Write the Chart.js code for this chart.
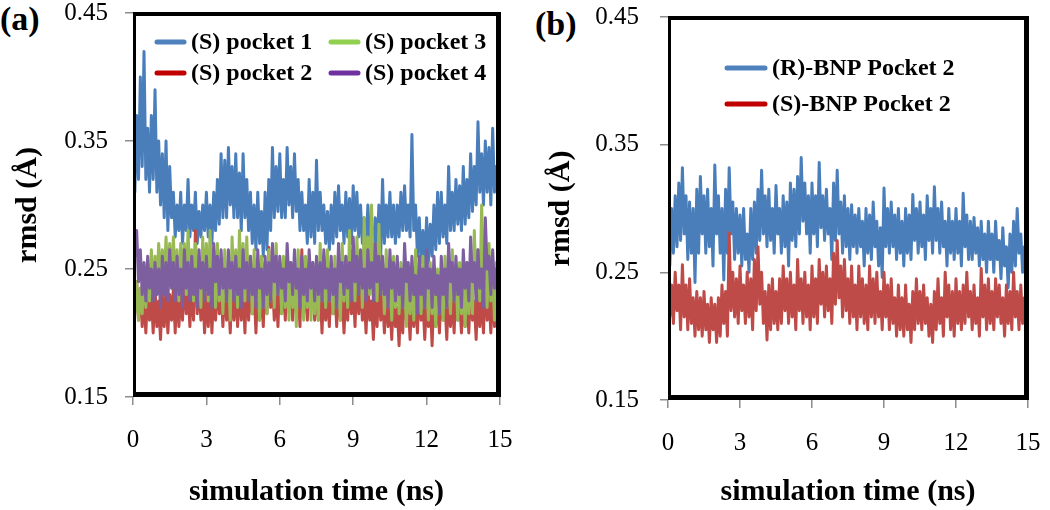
<!DOCTYPE html>
<html>
<head>
<meta charset="utf-8">
<script src="https://cdn.jsdelivr.net/npm/chart.js@4.4.0/dist/chart.umd.min.js"></script>
<style>
  body { margin: 0; background: #fff; width: 1050px; height: 510px; overflow: hidden; position: relative; font-family: 'Liberation Serif', serif; }
  canvas { position: absolute; top: 0; }
  #chartA { left: 0; }
  #chartB { left: 520px; }
  .tag { position: absolute; font-weight: bold; font-size: 34px; line-height: 1; color: #000; }
</style>
</head>
<body>
<div class="tag" style="left:0px;top:2px;">(a)</div>
<div class="tag" style="left:535px;top:7px;">(b)</div>
<canvas id="chartA" width="520" height="510"></canvas>
<canvas id="chartB" width="530" height="510"></canvas>
<script>
const SERIF = "'Liberation Serif', 'Times New Roman', serif";

// one high and one low reading per 0.15 ns window (the trace swings between them)
const TIME_STEP = 0.15;
const xTicks = [0, 3, 6, 9, 12, 15];
const yTicks = [0.15, 0.25, 0.35, 0.45];

// panel (a) - (S)-BNP, four pockets
const sPocket1Hi = [
  0.38, 0.37, 0.40, 0.42, 0.36, 0.37, 0.39, 0.35, 0.34, 0.35,
  0.33, 0.31, 0.30, 0.31, 0.30, 0.32, 0.30, 0.31, 0.295, 0.30,
  0.31, 0.30, 0.31, 0.32, 0.34, 0.335, 0.345, 0.33, 0.34, 0.325,
  0.34, 0.32, 0.31, 0.30, 0.31, 0.295, 0.31, 0.32, 0.345, 0.33,
  0.34, 0.32, 0.345, 0.33, 0.34, 0.32, 0.31, 0.30, 0.32, 0.31,
  0.335, 0.31, 0.30, 0.295, 0.30, 0.31, 0.315, 0.30, 0.31, 0.305,
  0.315, 0.31, 0.30, 0.29, 0.30, 0.285, 0.29, 0.30, 0.32, 0.30,
  0.31, 0.30, 0.30, 0.31, 0.315, 0.30, 0.355, 0.30, 0.29, 0.28,
  0.29, 0.285, 0.30, 0.31, 0.31, 0.30, 0.33, 0.31, 0.32, 0.315,
  0.33, 0.32, 0.34, 0.33, 0.365, 0.34, 0.35, 0.345, 0.36, 0.33, 0.345
];
const sPocket1Lo = [
  0.31, 0.32, 0.33, 0.32, 0.31, 0.32, 0.31, 0.30, 0.29, 0.28,
  0.29, 0.275, 0.28, 0.27, 0.28, 0.275, 0.28, 0.27, 0.275, 0.28,
  0.275, 0.27, 0.28, 0.285, 0.29, 0.29, 0.30, 0.29, 0.29, 0.28,
  0.29, 0.28, 0.27, 0.265, 0.27, 0.26, 0.265, 0.28, 0.29, 0.295,
  0.29, 0.29, 0.30, 0.29, 0.295, 0.28, 0.28, 0.27, 0.275, 0.27,
  0.28, 0.28, 0.27, 0.265, 0.27, 0.275, 0.28, 0.27, 0.275, 0.27,
  0.28, 0.275, 0.27, 0.265, 0.27, 0.26, 0.265, 0.26, 0.27, 0.275,
  0.275, 0.27, 0.275, 0.28, 0.28, 0.275, 0.28, 0.26, 0.255, 0.25,
  0.255, 0.26, 0.265, 0.27, 0.275, 0.27, 0.28, 0.28, 0.285, 0.28,
  0.285, 0.29, 0.295, 0.30, 0.31, 0.30, 0.31, 0.30, 0.31, 0.30, 0.32
];
const sPocket2Hi = [
  0.245, 0.24, 0.235, 0.23, 0.235, 0.23, 0.235, 0.225, 0.23, 0.235,
  0.23, 0.235, 0.24, 0.23, 0.245, 0.235, 0.24, 0.28, 0.24, 0.235,
  0.23, 0.24, 0.235, 0.245, 0.235, 0.24, 0.23, 0.24, 0.235, 0.24,
  0.235, 0.245, 0.24, 0.235, 0.24, 0.235, 0.25, 0.267, 0.24, 0.235,
  0.245, 0.24, 0.25, 0.24, 0.245, 0.235, 0.265, 0.24, 0.245, 0.235,
  0.24, 0.235, 0.24, 0.23, 0.24, 0.235, 0.24, 0.23, 0.235, 0.245,
  0.235, 0.25, 0.24, 0.23, 0.24, 0.225, 0.235, 0.24, 0.23, 0.235,
  0.225, 0.235, 0.22, 0.23, 0.24, 0.225, 0.235, 0.23, 0.24, 0.225,
  0.23, 0.225, 0.235, 0.23, 0.24, 0.225, 0.235, 0.23, 0.24, 0.225,
  0.235, 0.23, 0.24, 0.225, 0.235, 0.23, 0.245, 0.23, 0.235, 0.225, 0.24
];
const sPocket2Lo = [
  0.22, 0.21, 0.205, 0.20, 0.21, 0.20, 0.205, 0.195, 0.205, 0.20,
  0.21, 0.20, 0.205, 0.21, 0.215, 0.205, 0.21, 0.215, 0.21, 0.20,
  0.205, 0.20, 0.21, 0.215, 0.205, 0.21, 0.20, 0.21, 0.205, 0.21,
  0.20, 0.21, 0.215, 0.20, 0.21, 0.205, 0.215, 0.22, 0.21, 0.205,
  0.215, 0.21, 0.22, 0.21, 0.215, 0.205, 0.215, 0.21, 0.22, 0.21,
  0.21, 0.20, 0.21, 0.205, 0.215, 0.205, 0.21, 0.20, 0.21, 0.215,
  0.205, 0.215, 0.21, 0.20, 0.21, 0.195, 0.205, 0.21, 0.20, 0.205,
  0.195, 0.205, 0.19, 0.20, 0.21, 0.195, 0.205, 0.20, 0.21, 0.195,
  0.205, 0.19, 0.205, 0.20, 0.21, 0.195, 0.205, 0.20, 0.21, 0.20,
  0.205, 0.20, 0.21, 0.195, 0.205, 0.20, 0.21, 0.20, 0.205, 0.20, 0.21
];
const sPocket3Hi = [
  0.245, 0.24, 0.235, 0.245, 0.25, 0.265, 0.26, 0.27, 0.265, 0.275,
  0.27, 0.275, 0.265, 0.27, 0.27, 0.28, 0.265, 0.27, 0.26, 0.275,
  0.27, 0.28, 0.265, 0.27, 0.255, 0.265, 0.25, 0.275, 0.265, 0.28,
  0.27, 0.275, 0.26, 0.265, 0.25, 0.26, 0.255, 0.265, 0.26, 0.27,
  0.255, 0.26, 0.25, 0.255, 0.245, 0.265, 0.25, 0.26, 0.245, 0.255,
  0.25, 0.27, 0.26, 0.265, 0.25, 0.26, 0.245, 0.27, 0.26, 0.28,
  0.265, 0.275, 0.26, 0.29, 0.275, 0.30, 0.27, 0.285, 0.255, 0.265,
  0.25, 0.26, 0.25, 0.255, 0.24, 0.25, 0.245, 0.265, 0.25, 0.26,
  0.245, 0.255, 0.24, 0.25, 0.245, 0.26, 0.25, 0.265, 0.245, 0.255,
  0.24, 0.255, 0.25, 0.28, 0.265, 0.30, 0.26, 0.27, 0.25, 0.255, 0.245
];
const sPocket3Lo = [
  0.215, 0.21, 0.215, 0.22, 0.225, 0.23, 0.235, 0.24, 0.235, 0.24,
  0.235, 0.24, 0.225, 0.24, 0.23, 0.24, 0.225, 0.23, 0.22, 0.235,
  0.225, 0.235, 0.22, 0.225, 0.215, 0.225, 0.21, 0.23, 0.22, 0.235,
  0.225, 0.23, 0.215, 0.225, 0.21, 0.22, 0.215, 0.225, 0.22, 0.23,
  0.215, 0.22, 0.21, 0.22, 0.205, 0.225, 0.21, 0.22, 0.21, 0.215,
  0.21, 0.225, 0.22, 0.225, 0.215, 0.22, 0.21, 0.225, 0.22, 0.235,
  0.225, 0.235, 0.22, 0.24, 0.23, 0.245, 0.225, 0.235, 0.215, 0.22,
  0.21, 0.22, 0.215, 0.22, 0.205, 0.215, 0.21, 0.225, 0.215, 0.22,
  0.21, 0.215, 0.205, 0.215, 0.21, 0.22, 0.215, 0.225, 0.21, 0.215,
  0.205, 0.215, 0.215, 0.235, 0.225, 0.245, 0.22, 0.225, 0.21, 0.215, 0.21
];
const sPocket4Hi = [
  0.295, 0.28, 0.265, 0.255, 0.26, 0.25, 0.255, 0.25, 0.26, 0.255,
  0.265, 0.255, 0.26, 0.25, 0.265, 0.255, 0.26, 0.25, 0.265, 0.255,
  0.26, 0.25, 0.27, 0.26, 0.265, 0.25, 0.265, 0.255, 0.26, 0.25,
  0.265, 0.255, 0.26, 0.25, 0.265, 0.25, 0.26, 0.255, 0.27, 0.26,
  0.26, 0.25, 0.27, 0.255, 0.265, 0.25, 0.26, 0.25, 0.265, 0.255,
  0.26, 0.255, 0.265, 0.25, 0.26, 0.25, 0.27, 0.255, 0.26, 0.255,
  0.275, 0.26, 0.265, 0.25, 0.265, 0.255, 0.27, 0.26, 0.26, 0.25,
  0.265, 0.255, 0.26, 0.25, 0.27, 0.255, 0.26, 0.245, 0.26, 0.25,
  0.265, 0.25, 0.26, 0.245, 0.26, 0.25, 0.27, 0.255, 0.26, 0.25,
  0.265, 0.255, 0.275, 0.255, 0.265, 0.25, 0.29, 0.26, 0.265, 0.25, 0.26
];
const sPocket4Lo = [
  0.26, 0.24, 0.23, 0.225, 0.235, 0.225, 0.23, 0.22, 0.23, 0.225,
  0.235, 0.225, 0.23, 0.22, 0.235, 0.225, 0.23, 0.22, 0.235, 0.225,
  0.23, 0.22, 0.24, 0.23, 0.235, 0.225, 0.235, 0.225, 0.23, 0.22,
  0.235, 0.225, 0.23, 0.22, 0.235, 0.22, 0.23, 0.225, 0.24, 0.23,
  0.235, 0.225, 0.24, 0.23, 0.235, 0.22, 0.23, 0.225, 0.235, 0.225,
  0.23, 0.225, 0.235, 0.225, 0.23, 0.22, 0.24, 0.23, 0.235, 0.225,
  0.24, 0.23, 0.235, 0.225, 0.235, 0.225, 0.24, 0.23, 0.23, 0.22,
  0.235, 0.225, 0.23, 0.22, 0.24, 0.225, 0.23, 0.215, 0.23, 0.22,
  0.235, 0.22, 0.23, 0.215, 0.23, 0.22, 0.24, 0.225, 0.23, 0.22,
  0.235, 0.225, 0.24, 0.225, 0.235, 0.22, 0.25, 0.23, 0.235, 0.22, 0.23
];

// panel (b) - pocket 2, both enantiomers
const rBnpHi = [
  0.28, 0.30, 0.31, 0.32, 0.332, 0.31, 0.305, 0.30, 0.315, 0.325,
  0.31, 0.315, 0.30, 0.334, 0.31, 0.30, 0.315, 0.332, 0.305, 0.30,
  0.295, 0.30, 0.28, 0.30, 0.305, 0.315, 0.33, 0.31, 0.315, 0.30,
  0.318, 0.30, 0.31, 0.305, 0.32, 0.315, 0.325, 0.34, 0.32, 0.31,
  0.32, 0.31, 0.336, 0.31, 0.315, 0.30, 0.32, 0.33, 0.305, 0.31,
  0.30, 0.303, 0.295, 0.30, 0.29, 0.30, 0.295, 0.305, 0.29, 0.285,
  0.316, 0.30, 0.305, 0.295, 0.30, 0.29, 0.30, 0.295, 0.311, 0.30,
  0.305, 0.295, 0.31, 0.30, 0.317, 0.30, 0.305, 0.29, 0.30, 0.29,
  0.30, 0.29, 0.312, 0.295, 0.29, 0.293, 0.285, 0.29, 0.28, 0.29,
  0.28, 0.29, 0.275, 0.285, 0.27, 0.28, 0.29, 0.30, 0.28, 0.27, 0.29
];
const rBnpLo = [
  0.255, 0.265, 0.27, 0.275, 0.28, 0.26, 0.265, 0.242, 0.265, 0.28,
  0.265, 0.27, 0.255, 0.28, 0.265, 0.244, 0.265, 0.28, 0.26, 0.265,
  0.255, 0.26, 0.25, 0.26, 0.265, 0.275, 0.28, 0.27, 0.275, 0.265,
  0.28, 0.265, 0.27, 0.255, 0.275, 0.27, 0.28, 0.29, 0.28, 0.265,
  0.28, 0.27, 0.285, 0.275, 0.28, 0.26, 0.275, 0.28, 0.265, 0.27,
  0.26, 0.27, 0.265, 0.27, 0.255, 0.265, 0.26, 0.27, 0.255, 0.246,
  0.27, 0.265, 0.27, 0.26, 0.265, 0.255, 0.265, 0.26, 0.275, 0.265,
  0.27, 0.26, 0.275, 0.265, 0.275, 0.265, 0.27, 0.255, 0.265, 0.26,
  0.265, 0.255, 0.27, 0.26, 0.26, 0.265, 0.255, 0.26, 0.25, 0.26,
  0.25, 0.26, 0.245, 0.255, 0.238, 0.25, 0.255, 0.265, 0.25, 0.245, 0.255
];
const sBnpHi = [
  0.245, 0.24, 0.25, 0.24, 0.256, 0.24, 0.245, 0.23, 0.235, 0.23,
  0.235, 0.225, 0.23, 0.225, 0.23, 0.24, 0.235, 0.281, 0.25, 0.245,
  0.255, 0.24, 0.25, 0.245, 0.26, 0.27, 0.25, 0.235, 0.24, 0.245,
  0.235, 0.245, 0.255, 0.245, 0.25, 0.24, 0.26, 0.245, 0.25, 0.24,
  0.255, 0.245, 0.26, 0.25, 0.255, 0.245, 0.265, 0.275, 0.255, 0.26,
  0.245, 0.255, 0.24, 0.255, 0.245, 0.24, 0.255, 0.245, 0.25, 0.235,
  0.25, 0.24, 0.245, 0.23, 0.24, 0.23, 0.24, 0.225, 0.235, 0.245,
  0.235, 0.24, 0.23, 0.225, 0.235, 0.245, 0.23, 0.25, 0.24, 0.235,
  0.245, 0.235, 0.24, 0.25, 0.235, 0.24, 0.23, 0.253, 0.24, 0.245,
  0.235, 0.245, 0.24, 0.23, 0.24, 0.235, 0.25, 0.235, 0.24, 0.23, 0.245
];
const sBnpLo = [
  0.215, 0.21, 0.22, 0.205, 0.215, 0.205, 0.21, 0.20, 0.205, 0.20,
  0.205, 0.195, 0.205, 0.195, 0.20, 0.21, 0.20, 0.22, 0.215, 0.21,
  0.22, 0.21, 0.215, 0.205, 0.22, 0.225, 0.21, 0.197, 0.205, 0.21,
  0.205, 0.21, 0.22, 0.21, 0.215, 0.205, 0.22, 0.21, 0.215, 0.205,
  0.215, 0.21, 0.225, 0.215, 0.22, 0.21, 0.225, 0.23, 0.215, 0.22,
  0.21, 0.215, 0.205, 0.215, 0.21, 0.205, 0.215, 0.21, 0.215, 0.205,
  0.215, 0.205, 0.21, 0.20, 0.205, 0.20, 0.205, 0.195, 0.205, 0.21,
  0.205, 0.21, 0.20, 0.195, 0.205, 0.21, 0.20, 0.215, 0.205, 0.20,
  0.21, 0.205, 0.21, 0.215, 0.205, 0.21, 0.20, 0.215, 0.205, 0.21,
  0.205, 0.215, 0.21, 0.20, 0.21, 0.205, 0.215, 0.205, 0.21, 0.20, 0.215
];

// trace goes hi -> lo inside each window
function toPoints(hi, lo) {
  return hi.flatMap((h, i) => [
    { x: i * TIME_STEP, y: h },
    { x: i * TIME_STEP + TIME_STEP / 2, y: lo[i] },
  ]);
}

function series(label, hi, lo, color, legendColor) {
  return {
    label,
    data: toPoints(hi, lo),
    borderColor: color,
    legendColor,
    borderWidth: 3,
    pointRadius: 0,
    tension: 0,
    borderJoinStyle: 'round',
  };
}

// thick black box round the plot area, heavier on the right and bottom
const framePlugin = {
  id: 'frame',
  afterDatasetsDraw(chart) {
    const { ctx, chartArea: { left, top, right, bottom } } = chart;
    ctx.save();
    ctx.fillStyle = '#000';
    ctx.fillRect(left, top - 1, right - left, 4);
    ctx.fillRect(left, top - 1, 3, bottom - top + 1);
    ctx.fillRect(right - 4, top - 1, 5, bottom - top + 1);
    ctx.fillRect(left, bottom - 5, right - left + 1, 5);
    ctx.restore();
  },
};

// legend drawn in the plot corner, placed by the options
const boxLegend = {
  id: 'boxLegend',
  afterDraw(chart, args, opts) {
    const ctx = chart.ctx;
    ctx.save();
    ctx.font = `bold ${opts.size}px ${SERIF}`;
    ctx.textBaseline = 'middle';
    opts.items.forEach((it) => {
      const ds = chart.data.datasets[it.index];
      ctx.strokeStyle = ds.legendColor;
      ctx.lineWidth = 5;
      ctx.lineCap = 'round';
      ctx.beginPath();
      ctx.moveTo(it.x, it.y);
      ctx.lineTo(it.x + opts.len, it.y);
      ctx.stroke();
      ctx.fillStyle = '#000';
      ctx.fillText(ds.label, it.x + opts.len + 7, it.y + 1);
    });
    ctx.restore();
  },
};

function scales(yWidth, xHeight, yTickPad, yTitlePad) {
  return {
    x: {
      type: 'linear',
      min: 0,
      max: 15,
      afterBuildTicks: (s) => { s.ticks = xTicks.map((v) => ({ value: v })); },
      ticks: { font: { family: SERIF, size: 25 }, color: '#000', padding: 20, maxRotation: 0 },
      grid: { drawOnChartArea: false, drawTicks: true, tickLength: 8, color: '#8c8c8c', lineWidth: 1.5 },
      border: { display: false },
      title: {
        display: true,
        text: 'simulation time (ns)',
        font: { family: SERIF, size: 30, weight: 'bold' },
        color: '#000',
        padding: { top: 0, bottom: 0 },
      },
      afterFit: (s) => { s.height = xHeight; s.paddingLeft = 0; s.paddingRight = 0; },
    },
    y: {
      min: 0.15,
      max: 0.45,
      afterBuildTicks: (s) => { s.ticks = yTicks.map((v) => ({ value: v })); },
      ticks: { font: { family: SERIF, size: 25 }, color: '#000', padding: yTickPad, callback: (v) => v.toFixed(2) },
      grid: { drawOnChartArea: false, drawTicks: true, tickLength: 8, color: '#8c8c8c', lineWidth: 1.5 },
      border: { display: false },
      title: {
        display: true,
        text: 'rmsd (Å)',
        font: { family: SERIF, size: 30, weight: 'bold' },
        color: '#000',
        padding: { top: yTitlePad, bottom: 0 },
      },
      afterFit: (s) => { s.width = yWidth; s.paddingTop = 0; s.paddingBottom = 0; },
    },
  };
}

Chart.defaults.animation = false;

// panel (a): later datasets are drawn underneath, so pocket 4 goes first
new Chart(document.getElementById('chartA'), {
  type: 'line',
  data: {
    datasets: [
      series('(S) pocket 4', sPocket4Hi, sPocket4Lo, '#7d5fa0', '#7030a0'),
      series('(S) pocket 3', sPocket3Hi, sPocket3Lo, '#98b954', '#92d050'),
      series('(S) pocket 2', sPocket2Hi, sPocket2Lo, '#be4b48', '#c00000'),
      series('(S) pocket 1', sPocket1Hi, sPocket1Lo, '#4a7ebb', '#4f81bd'),
    ],
  },
  options: {
    responsive: false,
    layout: { padding: { top: 13, right: 20, bottom: 0, left: 0 } },
    scales: scales(133, 113, 17, 10),
    plugins: {
      legend: { display: false },
      tooltip: { enabled: false },
      boxLegend: {
        size: 24,
        len: 27,
        items: [
          { index: 3, x: 157, y: 42 },
          { index: 2, x: 157, y: 73 },
          { index: 1, x: 331, y: 42 },
          { index: 0, x: 331, y: 73 },
        ],
      },
    },
  },
  plugins: [framePlugin, boxLegend],
});

new Chart(document.getElementById('chartB'), {
  type: 'line',
  data: {
    datasets: [
      series('(S)-BNP Pocket 2', sBnpHi, sBnpLo, '#be4b48', '#c00000'),
      series('(R)-BNP Pocket 2', rBnpHi, rBnpLo, '#4a7ebb', '#4f81bd'),
    ],
  },
  options: {
    responsive: false,
    layout: { padding: { top: 17, right: 22, bottom: 0, left: 0 } },
    scales: scales(148, 110, 21, 23),
    plugins: {
      legend: { display: false },
      tooltip: { enabled: false },
      boxLegend: {
        size: 24,
        len: 38,
        items: [
          { index: 1, x: 207, y: 68 },
          { index: 0, x: 207, y: 104 },
        ],
      },
    },
  },
  plugins: [framePlugin, boxLegend],
});
</script>
</body>
</html>
